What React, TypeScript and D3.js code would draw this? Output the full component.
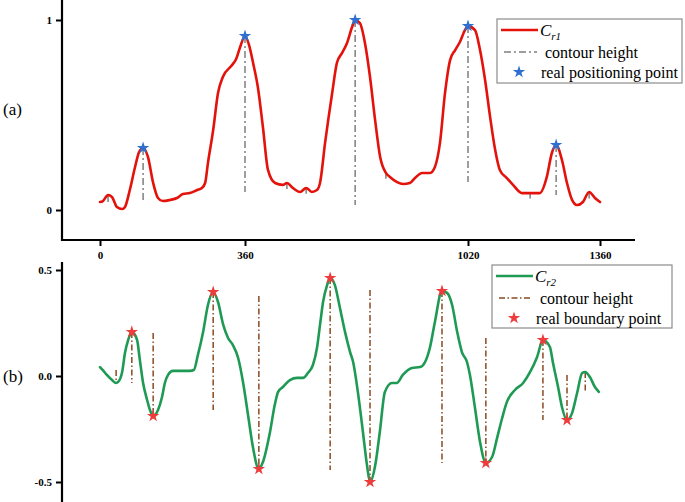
import { useRef, useEffect } from 'react';
import * as d3 from 'd3';

// shared x axis ticks
const X_TICKS = [0, 360, 1020, 1360];
const TOP_Y_TICKS = [0, 1];
const BOT_Y_TICKS = [-0.5, 0, 0.5];

// (a) C_r1 profile
const CR1 = [
  [0, 0.042], [7, 0.047], [20, 0.079], [30, 0.068], [42, 0.016], [55, 0.005], [62, 0.016], [74, 0.105],
  [87, 0.226], [97, 0.305], [107, 0.326], [119, 0.279], [132, 0.142], [144, 0.063], [156, 0.047],
  [174, 0.053], [191, 0.063], [206, 0.084], [223, 0.089], [241, 0.105], [253, 0.116], [261, 0.142],
  [268, 0.247], [281, 0.421], [293, 0.616], [305, 0.7], [328, 0.763], [338, 0.795], [348, 0.858],
  [360, 0.916], [372, 0.868], [384, 0.774], [398, 0.647], [413, 0.437], [428, 0.211], [449, 0.142],
  [472, 0.132], [484, 0.142], [502, 0.116], [523, 0.095], [541, 0.116], [558, 0.095], [573, 0.105],
  [582, 0.142], [597, 0.353], [618, 0.616], [632, 0.774], [647, 0.826], [662, 0.879], [677, 0.963],
  [686, 1.0], [700, 0.984], [715, 0.879], [730, 0.7], [745, 0.474], [760, 0.279], [777, 0.195],
  [789, 0.174], [810, 0.147], [828, 0.137], [848, 0.142], [863, 0.168], [884, 0.195], [908, 0.195],
  [922, 0.226], [937, 0.353], [952, 0.616], [967, 0.789], [982, 0.842], [996, 0.884], [1011, 0.947],
  [1020, 0.968], [1038, 0.947], [1051, 0.842], [1064, 0.684], [1077, 0.489], [1090, 0.316],
  [1102, 0.211], [1120, 0.168], [1136, 0.132], [1159, 0.089], [1180, 0.089], [1205, 0.089],
  [1223, 0.174], [1236, 0.3], [1247, 0.342], [1262, 0.263], [1275, 0.142], [1288, 0.053],
  [1301, 0.026], [1316, 0.042], [1332, 0.095], [1347, 0.063], [1360, 0.042],
];
const CR1_POINTS = [[107, 0.326], [360, 0.916], [686, 1.0], [1020, 0.968], [1247, 0.342]];
// [x, top, bottom]
const CR1_CONTOUR = [
  [107, 0.326, 0.042], [360, 0.916, 0.095], [686, 1.0, 0.026], [1020, 0.968, 0.147], [1247, 0.342, 0.079],
  [20, 0.079, 0.035], [484, 0.142, 0.11], [541, 0.116, 0.085], [777, 0.195, 0.165], [1180, 0.089, 0.06],
  [1332, 0.095, 0.06],
];

// (b) C_r2 profile
const CR2 = [
  [0, 0.042], [7, 0.028], [17, 0.005], [30, -0.019], [40, -0.033], [45, -0.028], [55, 0.019], [62, 0.108],
  [70, 0.17], [79, 0.208], [92, 0.17], [99, 0.075], [107, -0.033], [117, -0.113], [124, -0.16],
  [132, -0.189], [144, -0.16], [154, -0.099], [161, -0.033], [169, 0.005], [181, 0.024], [199, 0.024],
  [223, 0.024], [233, 0.028], [243, 0.099], [256, 0.208], [268, 0.335], [281, 0.396], [293, 0.349],
  [306, 0.241], [318, 0.179], [330, 0.146], [343, 0.085], [355, -0.028], [369, -0.184], [384, -0.34],
  [401, -0.439], [413, -0.406], [434, -0.264], [448, -0.137], [458, -0.075], [472, -0.052],
  [493, -0.019], [514, -0.009], [532, -0.009], [546, 0.014], [561, 0.052], [573, 0.132], [582, 0.241],
  [591, 0.349], [603, 0.429], [612, 0.462], [626, 0.429], [641, 0.321], [656, 0.208], [671, 0.113],
  [680, 0.066], [694, -0.075], [709, -0.264], [721, -0.42], [730, -0.5], [745, -0.425], [759, -0.264],
  [774, -0.075], [795, -0.033], [809, -0.033], [827, 0.005], [854, 0.038], [878, 0.042], [893, 0.066],
  [907, 0.132], [922, 0.255], [943, 0.401], [958, 0.392], [973, 0.335], [988, 0.208], [1002, 0.113],
  [1017, 0.066], [1025, 0.005], [1038, -0.151], [1051, -0.311], [1066, -0.41], [1082, -0.382],
  [1095, -0.292], [1108, -0.198], [1120, -0.123], [1141, -0.066], [1162, -0.033], [1180, 0.019],
  [1198, 0.09], [1213, 0.17], [1231, 0.137], [1239, 0.061], [1252, -0.052], [1262, -0.146],
  [1275, -0.208], [1288, -0.175], [1301, -0.08], [1314, 0.014], [1322, 0.019], [1334, -0.005],
  [1347, -0.052], [1357, -0.075],
];
const CR2_POINTS = [
  [79, 0.208], [132, -0.189], [281, 0.396], [401, -0.439], [612, 0.462],
  [730, -0.5], [943, 0.401], [1066, -0.41], [1213, 0.17], [1275, -0.208],
];
const CR2_CONTOUR = [
  [40, 0.028, -0.033], [79, 0.208, -0.033], [132, 0.203, -0.189], [281, 0.396, -0.16],
  [401, 0.377, -0.439], [612, 0.462, -0.443], [730, 0.406, -0.5], [943, 0.401, -0.41],
  [1066, 0.179, -0.41], [1213, 0.17, -0.208], [1275, 0.005, -0.208], [1322, 0.019, -0.075],
];

const RED = '#e3120b';
const GREEN = '#1f9a55';
const GRAY = '#7f7f7f';
const BROWN = '#8b4a22';
const BLUE_STAR = '#2f6fd0';
const RED_STAR = '#ee3b3b';
const SERIF = '"Liberation Serif", "Times New Roman", serif';

export default function App() {
  const svgRef = useRef<SVGSVGElement>(null);

  useEffect(() => {
    if (!svgRef.current) return;
    const svg = d3.select(svgRef.current);
    svg.selectAll('*').remove();

    const axisX = 62;
    const x = d3.scaleLinear().domain(X_TICKS).range([100, 245, 468, 600]);
    const yTop = d3.scaleLinear().domain([0, 1]).range([210, 20]);
    const yBot = d3.scaleLinear().domain([-0.5, 0.5]).range([482, 270]);

    const star = d3.symbol().type(d3.symbolStar).size(48);

    const drawPanel = (data, points, contour, y, color, dashColor, starColor, dash) => {
      const g = svg.append('g');
      g.selectAll('line.contour')
        .data(contour)
        .enter().append('line')
        .attr('x1', d => x(d[0])).attr('x2', d => x(d[0]))
        .attr('y1', d => y(d[1])).attr('y2', d => y(d[2]))
        .attr('stroke', dashColor).attr('stroke-width', 1.5)
        .attr('stroke-dasharray', dash);
      const line = d3.line().x(d => x(d[0])).y(d => y(d[1])).curve(d3.curveMonotoneX);
      g.append('path').datum(data)
        .attr('d', line)
        .attr('fill', 'none').attr('stroke', color).attr('stroke-width', 2.6)
        .attr('stroke-linejoin', 'round').attr('stroke-linecap', 'round');
      g.selectAll('path.star')
        .data(points)
        .enter().append('path')
        .attr('d', star)
        .attr('transform', d => `translate(${x(d[0])},${y(d[1])})`)
        .attr('fill', starColor);
    };

    drawPanel(CR1, CR1_POINTS, CR1_CONTOUR, yTop, RED, GRAY, BLUE_STAR, '7 3 2 3');
    drawPanel(CR2, CR2_POINTS, CR2_CONTOUR, yBot, GREEN, BROWN, RED_STAR, '6 2.5 1.5 2.5');

    const styleAxis = (sel) => {
      sel.select('.domain').remove();
      sel.selectAll('.tick line').attr('stroke', '#000').attr('stroke-width', 2);
      sel.selectAll('.tick text')
        .attr('fill', '#000').attr('font-family', SERIF)
        .attr('font-size', 11).attr('font-weight', 'bold');
    };

    // axis lines
    svg.append('line').attr('x1', axisX).attr('x2', axisX).attr('y1', 0).attr('y2', 241)
      .attr('stroke', '#000').attr('stroke-width', 2.2);
    svg.append('line').attr('x1', axisX - 1).attr('x2', 635).attr('y1', 240).attr('y2', 240)
      .attr('stroke', '#000').attr('stroke-width', 2.2);
    svg.append('line').attr('x1', axisX).attr('x2', axisX).attr('y1', 262).attr('y2', 502)
      .attr('stroke', '#000').attr('stroke-width', 2.2);

    svg.append('g').attr('transform', `translate(${axisX},0)`)
      .call(d3.axisLeft(yTop).tickValues(TOP_Y_TICKS).tickSize(6).tickPadding(4).tickFormat(d3.format('d')))
      .call(styleAxis);
    svg.append('g').attr('transform', `translate(${axisX},0)`)
      .call(d3.axisLeft(yBot).tickValues(BOT_Y_TICKS).tickSize(6).tickPadding(4).tickFormat(d => d.toFixed(1)))
      .call(styleAxis);
    svg.append('g').attr('transform', 'translate(0,240)')
      .call(d3.axisBottom(x).tickValues(X_TICKS).tickSize(6).tickPadding(5).tickFormat(d3.format('d')))
      .call(styleAxis);

    // panel labels
    svg.append('text').attr('x', 3).attr('y', 115).text('(a)')
      .attr('font-family', SERIF).attr('font-size', 17);
    svg.append('text').attr('x', 3).attr('y', 382).text('(b)')
      .attr('font-family', SERIF).attr('font-size', 17);

    // legends
    const legend = (bx, by, bw, bh, color, sub, dashColor, dash, starColor, label) => {
      const lg = svg.append('g').attr('font-family', SERIF);
      lg.append('rect').attr('x', bx).attr('y', by).attr('width', bw).attr('height', bh)
        .attr('fill', '#fff').attr('stroke', '#8c8c8c').attr('stroke-width', 1.2);
      lg.append('line').attr('x1', bx + 4).attr('x2', bx + 41).attr('y1', by + 11).attr('y2', by + 11)
        .attr('stroke', color).attr('stroke-width', 2.6);
      const t = lg.append('text').attr('x', bx + 43).attr('y', by + 17)
        .attr('font-size', 17).attr('font-style', 'italic');
      t.append('tspan').text('C');
      t.append('tspan').attr('dy', 4).attr('font-size', 11).text(sub);
      lg.append('line').attr('x1', bx + 7).attr('x2', bx + 40).attr('y1', by + 33).attr('y2', by + 33)
        .attr('stroke', dashColor).attr('stroke-width', 1.5).attr('stroke-dasharray', dash);
      lg.append('text').attr('x', bx + 48).attr('y', by + 39).text('contour height')
        .attr('font-size', 16);
      lg.append('path').attr('d', star).attr('transform', `translate(${bx + 22},${by + 53})`)
        .attr('fill', starColor);
      lg.append('text').attr('x', bx + 44).attr('y', by + 59).text(label)
        .attr('font-size', 16);
    };
    legend(497, 19, 185, 64, RED, 'r1', GRAY, '7 3 2 3', BLUE_STAR, 'real positioning point');
    legend(492, 265, 180, 63, GREEN, 'r2', BROWN, '6 2.5 1.5 2.5', RED_STAR, 'real boundary point');
  }, []);

  return (
    <svg ref={svgRef} width={685} height={502}
      style={{ position: 'absolute', left: 0, top: 0, background: '#fff' }} />
  );
}
